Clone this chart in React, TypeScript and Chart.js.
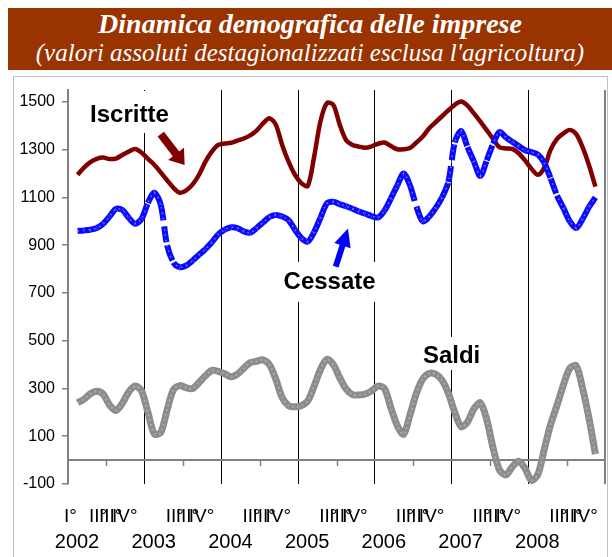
import React, { useEffect, useRef } from "react";
import { Chart, registerables } from "chart.js";
Chart.register(...registerables);

// Monthly points, Feb 2002 .. Nov 2008
const firstYear = 2002;
const firstMonthIndex = 1; // February
const iscritte = [
  1195, 1225, 1248, 1262, 1267, 1261, 1263, 1278, 1292, 1303,
  1288, 1262, 1237, 1205, 1172, 1140, 1120, 1130, 1155, 1195,
  1250, 1292, 1320, 1326, 1329, 1338, 1347, 1360, 1380, 1410,
  1432, 1405, 1320, 1250, 1195, 1160, 1148, 1270, 1420, 1495,
  1488, 1405, 1340, 1320, 1313, 1308, 1314, 1325, 1330, 1315,
  1302, 1302, 1307, 1330, 1355, 1390, 1415, 1440, 1465, 1488,
  1502, 1485, 1452, 1418, 1382, 1345, 1310, 1305, 1303, 1285,
  1255, 1220, 1195, 1225, 1300, 1345, 1368, 1383, 1365, 1310,
  1235, 1145,
];
const cessate = [
  960, 962, 965, 972, 990, 1020, 1052, 1048, 1015, 990,
  1010, 1077, 1120, 1070, 900, 828, 808, 815, 836, 860,
  884, 912, 945, 965, 975, 972, 958, 952, 972, 995,
  1018, 1027, 1020, 1005, 965, 930, 915, 955, 1015, 1075,
  1082, 1072, 1063, 1053, 1041, 1032, 1022, 1016, 1045, 1095,
  1150, 1200, 1150, 1062, 1000, 1020, 1055, 1100, 1165, 1330,
  1378, 1311, 1250, 1190, 1255, 1325, 1374, 1352, 1333, 1315,
  1298, 1290, 1280, 1245, 1180, 1108, 1055, 1000, 972, 1010,
  1060, 1100,
];
const saldi = [
  240, 255, 278, 288, 276, 231, 208, 238, 285, 310,
  290, 200, 110, 115, 210, 295, 312, 303, 300, 325,
  353, 376, 372, 362, 349, 360, 385, 408, 414, 420,
  400, 340, 262, 228, 223, 228, 248, 310, 380, 422,
  400, 345, 298, 274, 273, 277, 290, 310, 300, 220,
  145, 108, 190, 280, 340, 363, 360, 335, 280, 200,
  140, 160, 215, 240, 170, 50, -41, -62, -28, -5,
  -35, -85, -60, 45, 150, 230, 315, 385, 395, 300,
  175, 25,
];
const years = [2002, 2003, 2004, 2005, 2006, 2007, 2008];
const yearLines = [2002, 2003, 2004, 2005, 2006, 2007, 2008, 2009];
const yTicks = [-100, 100, 300, 500, 700, 900, 1100, 1300, 1500];
const quarterLabels = ["I°", "II°", "III°", "IV°"];

const labelIscritte = { text: "Iscritte", t: 2002.8, v: 1416 };
const labelCessate = { text: "Cessate", t: 2005.41, v: 717 };
const labelSaldi = { text: "Saldi", t: 2007.0, v: 407 };
const arrowIscritte = { t1: 2003.21, v1: 1365, t2: 2003.52, v2: 1236 };
const arrowCessate = { t1: 2005.49, v1: 810, t2: 2005.65, v2: 970 };

const monthTime = (i: number) => firstYear + (i + firstMonthIndex + 0.5) / 12;
const toPoints = (arr: number[]) => arr.map((v, i) => ({ x: monthTime(i), y: v }));

const SANS = '"Liberation Sans", Arial, sans-serif';

function drawArrow(ctx: CanvasRenderingContext2D, x1: number, y1: number, x2: number, y2: number,
  shaftW: number, headW: number, headL: number, color: string) {
  const a = Math.atan2(y2 - y1, x2 - x1);
  const bx = x2 - headL * Math.cos(a);
  const by = y2 - headL * Math.sin(a);
  ctx.save();
  ctx.strokeStyle = color;
  ctx.lineWidth = shaftW;
  ctx.lineCap = "butt";
  ctx.beginPath();
  ctx.moveTo(x1, y1);
  ctx.lineTo(bx + Math.cos(a), by + Math.sin(a));
  ctx.stroke();
  ctx.fillStyle = color;
  ctx.beginPath();
  ctx.moveTo(x2, y2);
  ctx.lineTo(bx + (headW / 2) * Math.sin(a), by - (headW / 2) * Math.cos(a));
  ctx.lineTo(bx - (headW / 2) * Math.sin(a), by + (headW / 2) * Math.cos(a));
  ctx.closePath();
  ctx.fill();
  ctx.restore();
}

const decorPlugin = {
  id: "decor",
  beforeDatasetsDraw(chart: any) {
    const { ctx, chartArea } = chart;
    const xs = chart.scales.x;
    const ys = chart.scales.y;
    ctx.save();
    // zero line
    const y0 = ys.getPixelForValue(0);
    ctx.strokeStyle = "#808080";
    ctx.lineWidth = 2;
    ctx.beginPath();
    ctx.moveTo(chartArea.left, y0);
    ctx.lineTo(chartArea.right, y0);
    ctx.stroke();
    // half-year ticks
    ctx.lineWidth = 1.5;
    for (const yr of years) {
      const x = Math.round(xs.getPixelForValue(yr + 0.5)) + 0.5;
      ctx.beginPath();
      ctx.moveTo(x, y0);
      ctx.lineTo(x, y0 + 6);
      ctx.stroke();
    }
    // text labels with white boxes
    ctx.font = `bold 24px ${SANS}`;
    ctx.textAlign = "center";
    ctx.textBaseline = "alphabetic";
    const boxes: [typeof labelIscritte, number, number][] = [
      [labelIscritte, 40, 11],
      [labelCessate, 27, 13],
      [labelSaldi, 26, 7],
    ];
    for (const [lab, up, down] of boxes) {
      const x = xs.getPixelForValue(lab.t);
      const y = ys.getPixelForValue(lab.v);
      const w = ctx.measureText(lab.text).width;
      const top = Math.max(chartArea.top + 1, y - up);
      ctx.fillStyle = "#ffffff";
      ctx.fillRect(x - w / 2 - 3, top, w + 6, y + down - top);
      ctx.fillStyle = "#000000";
      ctx.fillText(lab.text, x, y);
    }
    drawArrow(ctx,
      xs.getPixelForValue(arrowIscritte.t1), ys.getPixelForValue(arrowIscritte.v1),
      xs.getPixelForValue(arrowIscritte.t2), ys.getPixelForValue(arrowIscritte.v2),
      8, 20, 14, "#800000");
    drawArrow(ctx,
      xs.getPixelForValue(arrowCessate.t1), ys.getPixelForValue(arrowCessate.v1),
      xs.getPixelForValue(arrowCessate.t2), ys.getPixelForValue(arrowCessate.v2),
      6, 17, 18, "#0000ff");
    ctx.restore();
  },
  afterDraw(chart: any) {
    const { ctx, chartArea } = chart;
    const xs = chart.scales.x;
    ctx.save();
    ctx.fillStyle = "#000";
    ctx.textBaseline = "alphabetic";
    ctx.font = `19px ${SANS}`;
    ctx.textAlign = "left";
    const qBase = chartArea.bottom + 38;
    ctx.fillText(quarterLabels[0], xs.getPixelForValue(years[0]) - 4, qBase);
    const qOffsets = [0, 21, 31, 44];
    for (const yr of years) {
      const x0 = xs.getPixelForValue(yr);
      for (let q = 1; q < 4; q++) ctx.fillText(quarterLabels[q], x0 + qOffsets[q], qBase);
    }
    ctx.font = `20px ${SANS}`;
    ctx.textAlign = "center";
    for (const yr of years) {
      ctx.fillText(String(yr), xs.getPixelForValue(yr) + 9, chartArea.bottom + 64);
    }
    ctx.restore();
  },
};

export default function App() {
  const ref = useRef<HTMLCanvasElement | null>(null);
  useEffect(() => {
    if (!ref.current) return;
    const chart = new Chart(ref.current, {
      type: "line",
      data: {
        datasets: [
          {
            label: "CessateTexture",
            data: toPoints(cessate),
            borderColor: "rgba(255,255,255,0.45)",
            borderWidth: 1.5,
            borderDash: [1.5, 4],
            tension: 0.3,
            pointRadius: 0,
          },
          {
            label: "Cessate",
            data: toPoints(cessate),
            borderColor: "#0a0aff",
            borderWidth: 6,
            borderDash: [16, 6],
            borderCapStyle: "butt",
            tension: 0.3,
            pointRadius: 0,
            segment: {
              borderDashOffset: (c: any) => (c.p0DataIndex % 2 ? 0 : 0.001),
            },
          } as any,
          {
            label: "Iscritte",
            data: toPoints(iscritte),
            borderColor: "#800000",
            borderWidth: 4.5,
            tension: 0.3,
            pointRadius: 0,
          },
          {
            label: "SaldiTexture",
            data: toPoints(saldi),
            borderColor: "rgba(190,190,190,0.6)",
            borderWidth: 2,
            borderDash: [2, 3],
            tension: 0.3,
            pointRadius: 0,
          },
          {
            label: "Saldi",
            data: toPoints(saldi),
            borderColor: "#8c8c8c",
            borderWidth: 7,
            tension: 0.3,
            pointRadius: 0,
          },
        ],
      },
      options: {
        animation: false,
        responsive: false,
        devicePixelRatio: 1,
        layout: { padding: { top: 90, right: 7, left: 0, bottom: 0 } },
        plugins: { legend: { display: false }, tooltip: { enabled: false } },
        scales: {
          x: {
            type: "linear",
            min: 2002,
            max: 2009,
            afterBuildTicks: (s: any) => {
              s.ticks = yearLines.map((v) => ({ value: v }));
            },
            afterFit: (s: any) => {
              s.height = 73;
            },
            ticks: { display: false },
            grid: {
              drawTicks: false,
              color: (c: any) => (c.tick && (c.tick.value === 2009 || c.tick.value === 2002) ? "#808080" : "#000000"),
              lineWidth: (c: any) => (c.tick && (c.tick.value === 2009 || c.tick.value === 2002) ? 2 : 1),
            },
            border: { display: false },
          },
          y: {
            min: -100,
            max: 1550,
            afterBuildTicks: (s: any) => {
              s.ticks = yTicks.map((v) => ({ value: v }));
            },
            afterFit: (s: any) => {
              s.width = 68;
            },
            ticks: {
              font: { family: SANS, size: 16 },
              color: "#000",
              padding: 7,
              callback: (v: any) => String(v),
            },
            grid: { drawOnChartArea: false, drawTicks: true, tickLength: 6, color: "#808080", lineWidth: 1.5 },
            border: { display: true, color: "#808080", width: 2 },
          },
        },
      },
      plugins: [decorPlugin],
    } as any);
    return () => chart.destroy();
  }, []);

  return (
    <div style={{ position: "absolute", left: 0, top: 0, width: 612, height: 557, background: "#fff", overflow: "hidden" }}>
      <div
        style={{
          position: "absolute", left: 8, top: 8, width: 604, height: 62, background: "#993300",
          color: "#fff", textAlign: "center", fontFamily: '"Liberation Serif", "Times New Roman", serif',
        }}
      >
        <div style={{ fontSize: 28, fontWeight: "bold", fontStyle: "italic", lineHeight: "30px", paddingTop: 1 }}>
          Dinamica demografica delle imprese
        </div>
        <div style={{ fontSize: 25, fontStyle: "italic", lineHeight: "28px" }}>
          (valori assoluti destagionalizzati esclusa l'agricoltura)
        </div>
      </div>
      <div style={{ position: "absolute", left: 13, top: 76, width: 593, height: 500, border: "1px solid #c0c0c0" }} />
      <canvas ref={ref} width={612} height={557} style={{ position: "absolute", left: 0, top: 0, width: 612, height: 557 }} />
    </div>
  );
}
